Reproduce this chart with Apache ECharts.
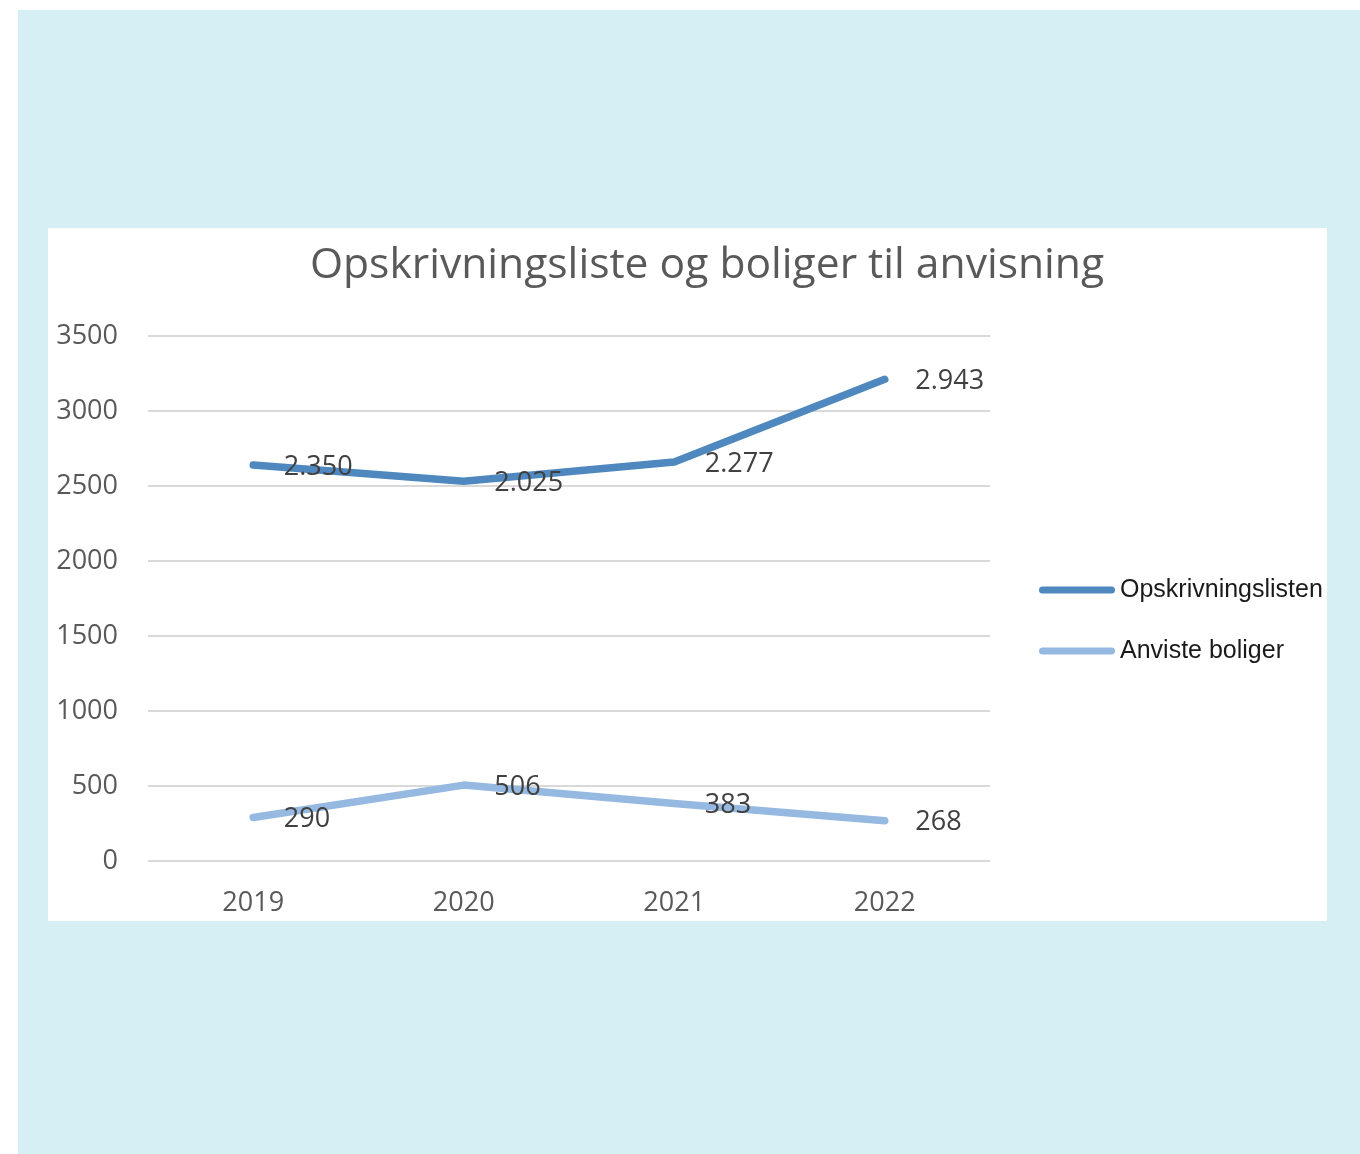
<!DOCTYPE html>
<html>
<head>
<meta charset="utf-8">
<title>Opskrivningsliste og boliger til anvisning</title>
<script src="https://cdn.jsdelivr.net/npm/echarts@6/dist/echarts.min.js"></script>
<style>
  body { margin: 0; background: #fff; }
  #bg { position: absolute; left: 18px; top: 10px; width: 1342px; height: 1144px; background: #d6eff4; }
  #main { position: absolute; left: 48px; top: 228px; width: 1279px; height: 693px; background: #fff; }
</style>
</head>
<body>
<div id="bg"></div>
<div id="main"></div>
<script>
var years = ['2019', '2020', '2021', '2022'];
var opskrivning = [2350, 2025, 2277, 2943];
var anviste = [290, 506, 383, 268];
var yTicks = { min: 0, max: 3500, interval: 500 };

var nameOps = 'Opskrivningslisten i alt';
var nameAnv = 'Anviste boliger';

// dansk tusindtalsseparator
function fmt(v) {
  return String(v).replace(/\B(?=(\d{3})+(?!\d))/g, '.');
}

var labelStyle = {
  show: true,
  position: 'right',
  distance: 30,
  offset: [0, 2],
  fontFamily: 'Open Sans',
  fontSize: 27,
  color: '#404040',
  formatter: function (p) { return fmt(p.value); }
};

var myChart = echarts.init(document.getElementById('main'));

var option = {
  backgroundColor: '#fff',
  animation: false,
  title: {
    text: 'Opskrivningsliste og boliger til anvisning',
    left: 654,
    top: 11,
    textAlign: 'center',
    textStyle: { fontFamily: 'Open Sans', fontSize: 42.6, fontWeight: 'normal', color: '#595959' }
  },
  grid: { left: 100, right: 337, top: 108, bottom: 60 },
  legend: {
    orient: 'vertical',
    left: 986,
    top: 342,
    itemWidth: 76,
    itemHeight: 7,
    itemGap: 31,
    icon: 'path://M3.5,0 H72.5 A3.5,3.5 0 0 1 72.5,7 H3.5 A3.5,3.5 0 0 1 3.5,0 Z',
    data: [nameOps, nameAnv],
    textStyle: { fontFamily: 'Liberation Sans', fontSize: 25, color: '#1a1a1a', lineHeight: 30 }
  },
  xAxis: {
    type: 'category',
    data: years,
    boundaryGap: true,
    axisLine: { show: false },
    axisTick: { show: false },
    axisLabel: { margin: 29, fontFamily: 'Open Sans', fontSize: 27, color: '#595959' }
  },
  yAxis: {
    type: 'value',
    min: yTicks.min,
    max: yTicks.max,
    interval: yTicks.interval,
    axisLabel: {
      margin: 30, fontFamily: 'Open Sans', fontSize: 27, color: '#595959',
      formatter: function (v) { return String(v); }
    },
    splitLine: { lineStyle: { color: '#d9d9d9', width: 2 } }
  },
  series: [
    {
      name: nameAnv,
      type: 'line',
      stack: 'total',
      data: anviste,
      symbol: 'circle',
      symbolSize: 1,
      itemStyle: { color: '#96b9e2' },
      lineStyle: { width: 7.5, color: '#96b9e2', cap: 'round', join: 'round' },
      label: labelStyle,
      z: 2
    },
    {
      name: nameOps,
      type: 'line',
      stack: 'total',
      data: opskrivning,
      symbol: 'circle',
      symbolSize: 1,
      itemStyle: { color: '#4e88bf' },
      lineStyle: { width: 7.5, color: '#4e88bf', cap: 'round', join: 'round' },
      label: labelStyle,
      z: 3
    }
  ]
};
myChart.setOption(option);
</script>
</body>
</html>
